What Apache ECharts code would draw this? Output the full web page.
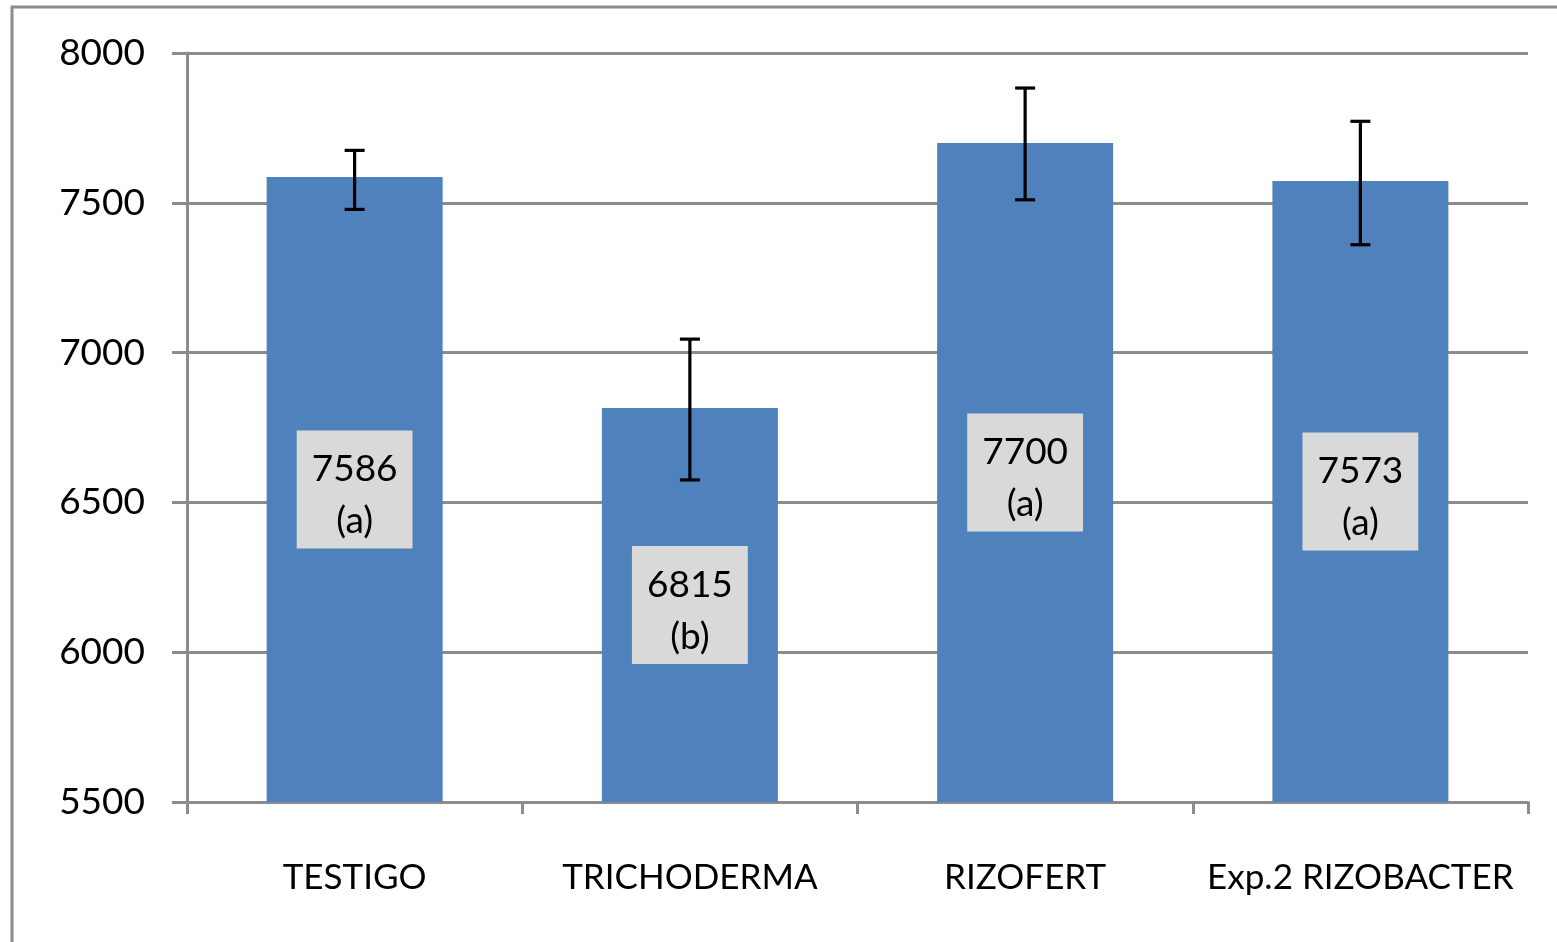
<!DOCTYPE html>
<html>
<head>
<meta charset="utf-8">
<script src="https://cdn.jsdelivr.net/npm/echarts@6/dist/echarts.min.js"></script>
<style>
html,body{margin:0;padding:0;background:#fff;}
#chart{width:1557px;height:942px;}
</style>
</head>
<body>
<div id="chart"></div>
<script>
const categories = ['TESTIGO', 'TRICHODERMA', 'RIZOFERT', 'Exp.2 RIZOBACTER'];
const values = [7586, 6815, 7700, 7573];
const letters = ['a', 'b', 'a', 'a'];
const errLow = [7478, 6575, 7510, 7360];
const errHigh = [7675, 7045, 7883, 7772];
const yTicks = { min: 5500, max: 8000, interval: 500 };

const FONT = 'Lato';
const GRAY = '#8c8c8c';

const chart = echarts.init(document.getElementById('chart'));
chart.setOption({
  animation: false,
  backgroundColor: '#fff',
  graphic: [{
    type: 'rect',
    shape: { x: 12, y: 7, width: 1700, height: 1100 },
    style: { fill: 'none', stroke: GRAY, lineWidth: 3 },
    silent: true
  }],
  grid: { left: 187, right: 29, top: 53, bottom: 140 },
  xAxis: {
    type: 'category',
    data: categories,
    axisLine: { lineStyle: { color: GRAY, width: 3 } },
    axisTick: { show: true, interval: 0, length: 12, lineStyle: { color: GRAY, width: 3 } },
    axisLabel: { interval: 0, color: '#000', fontFamily: FONT, fontSize: 35, margin: 58 }
  },
  yAxis: {
    type: 'value',
    min: yTicks.min, max: yTicks.max, interval: yTicks.interval,
    axisLine: { show: true, lineStyle: { color: GRAY, width: 3 } },
    axisTick: { show: true, length: 15, lineStyle: { color: GRAY, width: 3 } },
    splitLine: { lineStyle: { color: GRAY, width: 3 } },
    axisLabel: { color: '#000', fontFamily: FONT, fontSize: 37, margin: 42, formatter: v => String(v) }
  },
  series: [{
    type: 'bar',
    data: values,
    barWidth: 176,
    itemStyle: { color: '#4f81bd' },
    label: {
      show: true,
      position: 'inside',
      formatter: p => '{s| }\n{t|' + p.value + '}\n{t|(' + letters[p.dataIndex] + ')}',
      color: '#000',
      fontFamily: FONT,
      fontSize: 37,
      backgroundColor: '#d9d9d9',
      padding: [1, 15, 1, 15],
      rich: {
        s: { fontSize: 4, lineHeight: 12 },
        t: { fontFamily: FONT, fontSize: 37, lineHeight: 52, color: '#000' }
      }
    },
    z: 2
  }, {
    type: 'custom',
    data: categories.map((c, i) => [i, errLow[i], errHigh[i]]),
    renderItem: function (params, api) {
      const x = api.value(0);
      const lo = api.coord([x, api.value(1)]);
      const hi = api.coord([x, api.value(2)]);
      const hw = 10;
      const style = { stroke: '#000', lineWidth: 3.2 };
      return {
        type: 'group',
        children: [
          { type: 'line', shape: { x1: lo[0], y1: lo[1], x2: hi[0], y2: hi[1] }, style },
          { type: 'line', shape: { x1: lo[0] - hw, y1: lo[1], x2: lo[0] + hw, y2: lo[1] }, style },
          { type: 'line', shape: { x1: hi[0] - hw, y1: hi[1], x2: hi[0] + hw, y2: hi[1] }, style }
        ]
      };
    },
    z: 5
  }]
});
</script>
</body>
</html>
